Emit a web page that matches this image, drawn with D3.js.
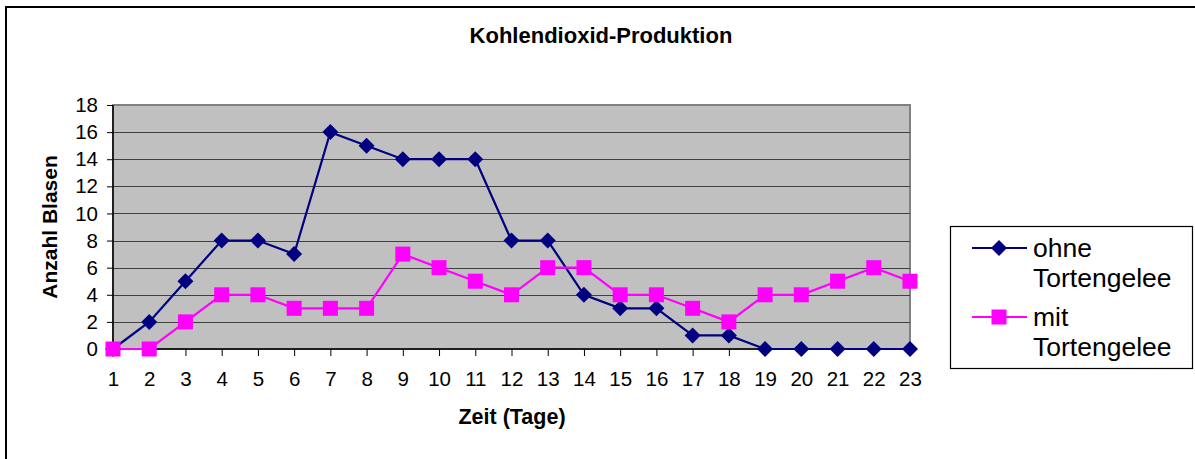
<!DOCTYPE html>
<html><head><meta charset="utf-8">
<script src="https://cdn.jsdelivr.net/npm/d3@7"></script>
<style>html,body{margin:0;padding:0;background:#fff;}svg{display:block;font-family:"Liberation Sans",Arial,sans-serif;}</style>
</head><body>
<svg id="c" width="1195" height="459"></svg>
<script>
const days = d3.range(1, 24).map(String);
const ohne = [0,2,5,8,8,7,16,15,14,14,14,8,8,4,3,3,1,1,0,0,0,0,0];
const mit  = [0,0,2,4,4,3,3,3,7,6,5,4,6,6,4,4,3,2,4,4,5,6,5];
const yTicks = [0,2,4,6,8,10,12,14,16,18];
const seriesNames = ["ohne Tortengelee", "mit Tortengelee"];
const colors = ["#000080", "#FF00FF"];

const svg = d3.select("#c");
// outer border
svg.append("rect").attr("x",6).attr("y",7).attr("width",1300).attr("height",600)
  .attr("fill","none").attr("stroke","#000").attr("stroke-width",2);

const L=113, R=910, T=105, B=349;
const x = d3.scalePoint().domain(days).range([L,R]);
const y = d3.scaleLinear().domain([0,18]).range([B,T]);

// plot background
svg.append("rect").attr("x",L).attr("y",T).attr("width",R-L).attr("height",B-T)
  .attr("fill","#C0C0C0").attr("stroke","#808080").attr("stroke-width",2);
// gridlines
svg.append("g").selectAll("line").data(yTicks.filter(v=>v>0&&v<18)).join("line")
  .attr("x1",L).attr("x2",R).attr("y1",d=>Math.round(y(d))+0.5).attr("y2",d=>Math.round(y(d))+0.5)
  .attr("stroke","#404040").attr("stroke-width",1.2);

// axes
const yAxis = d3.axisLeft(y).tickValues(yTicks).tickSize(6).tickPadding(9);
const gy = svg.append("g").attr("transform",`translate(${L},0)`).call(yAxis);
const xAxis = d3.axisBottom(x).tickSize(7).tickPadding(15);
const gx = svg.append("g").attr("transform",`translate(0,${B})`).call(xAxis);
[gx,gy].forEach(g=>{
  g.select(".domain").attr("stroke","#000").attr("stroke-width",1.5);
  g.selectAll(".tick line").attr("stroke","#000").attr("stroke-width",1);
  g.selectAll(".tick text").attr("fill","#000").style("font-size","20.5px").style("font-family","'Liberation Sans',Arial,sans-serif");
});
gy.select(".domain").attr("d",`M0,${B}V${T}`);
gx.select(".domain").attr("d",`M${L},0H${R}`);

// lines & markers
const data = [ohne, mit];
const line = d3.line().x((d,i)=>x(days[i])).y(d=>y(d));
data.forEach((vals,si)=>{
  svg.append("path").datum(vals).attr("d",line).attr("fill","none")
    .attr("stroke",colors[si]).attr("stroke-width",2.2);
});
const diamond = (cx,cy,r)=>`M${cx},${cy-r}L${cx+r},${cy}L${cx},${cy+r}L${cx-r},${cy}Z`;
svg.append("g").selectAll("path").data(ohne).join("path")
  .attr("d",(d,i)=>diamond(x(days[i]),y(d),8)).attr("fill",colors[0]);
svg.append("g").selectAll("rect").data(mit).join("rect")
  .attr("x",(d,i)=>x(days[i])-7.5).attr("y",d=>y(d)-7.5).attr("width",15).attr("height",15)
  .attr("fill",colors[1]);

// title & axis labels
svg.append("text").attr("x",601).attr("y",43).attr("text-anchor","middle")
  .style("font-size","22px").style("font-weight","bold").text("Kohlendioxid-Produktion");
svg.append("text").attr("x",512).attr("y",424).attr("text-anchor","middle")
  .style("font-size","21.5px").style("font-weight","bold").text("Zeit (Tage)");
svg.append("text").attr("transform","translate(57,227) rotate(-90)").attr("text-anchor","middle")
  .style("font-size","21px").style("font-weight","bold").text("Anzahl Blasen");

// legend
const lg = svg.append("g");
lg.append("rect").attr("x",950.5).attr("y",226.5).attr("width",242).attr("height",142)
  .attr("fill","#fff").attr("stroke","#000").attr("stroke-width",1.2);
const ly = [248, 317];
seriesNames.forEach((name,i)=>{
  lg.append("line").attr("x1",972).attr("x2",1027).attr("y1",ly[i]).attr("y2",ly[i])
    .attr("stroke",colors[i]).attr("stroke-width",2.2);
  if(i===0) lg.append("path").attr("d",diamond(999,ly[i],8)).attr("fill",colors[i]);
  else lg.append("rect").attr("x",999-7.5).attr("y",ly[i]-7.5).attr("width",15).attr("height",15).attr("fill",colors[i]);
  const parts = name.split(" ");
  const t = lg.append("text").attr("x",1033).attr("y",ly[i]+9).style("font-size","26.5px");
  t.append("tspan").attr("x",1033).text(parts[0]);
  t.append("tspan").attr("x",1033).attr("dy",30).text(parts[1]);
});
</script>
</body></html>
